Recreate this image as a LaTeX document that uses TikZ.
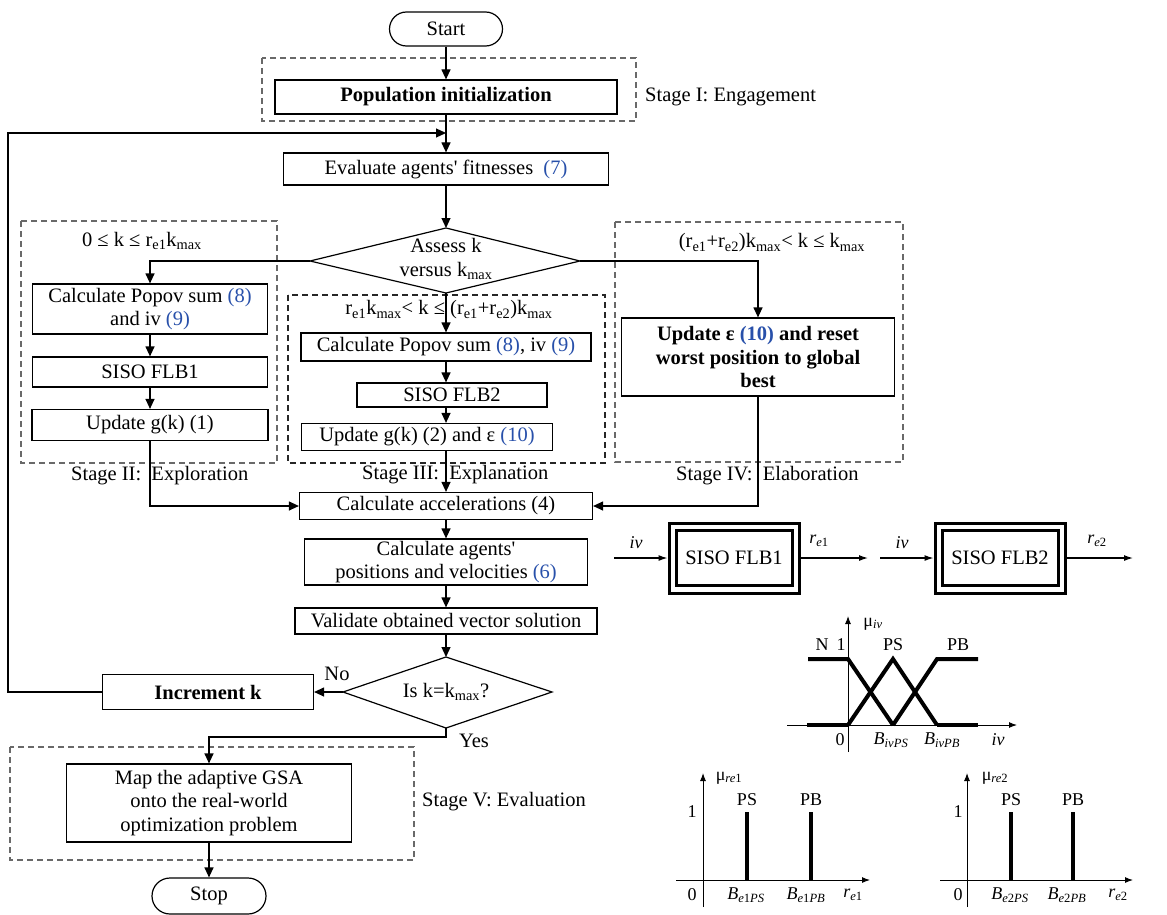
\documentclass[tikz,border=0pt]{standalone}
\usepackage{fontspec}
\setmainfont{Liberation Serif}
\usetikzlibrary{arrows.meta}
\definecolor{eqblue}{RGB}{40,80,170}
\definecolor{dashgray}{RGB}{105,105,105}
\newcommand{\eqn}[1]{\textcolor{eqblue}{(#1)}}
\newcommand{\kmax}{k\textsubscript{max}}
\newcommand{\rsub}[1]{r\textsubscript{#1}}
\begin{document}
\begin{tikzpicture}[x=1pt,y=-1pt,
  font=\fontsize{20.5}{23.5}\selectfont,
  box/.style={draw, line width=1.2pt, align=center, inner sep=1pt},
  bold/.style={font=\fontsize{20.5}{23.5}\selectfont\bfseries},
  stagebox/.style={draw=dashgray, line width=1.2pt, dash pattern=on 6pt off 4pt},
  conn/.style={line width=1.2pt},
  arr/.style={conn, -{Triangle[length=10pt,width=9pt]}},
  lbl/.style={inner sep=0pt},
  flbarr/.style={line width=1.2pt, -{Latex[length=9pt,width=6pt]}},
  mf/.style={line width=4pt},
  axisarr/.style={line width=1pt, -{Latex[length=8pt,width=6pt]}},
  plbl/.style={inner sep=0pt, font=\fontsize{18}{20}\selectfont},
]
\useasboundingbox (0,0) rectangle (1167,915);

% ---------- main flow ----------
\node[box, rounded corners=17pt, minimum width=113pt, minimum height=34pt] (start) at (446,29) {Start};
\draw[stagebox] (262,58) rectangle (636,121);
\node[box, bold, minimum width=342pt, minimum height=34pt] (pop) at (446,97) {Population initialization};
\node[lbl, anchor=west] (s1) at (645,97) {Stage I: Engagement};
\coordinate (j1) at (446,133);
\node[box, minimum width=325pt, minimum height=32pt] (eval) at (446,169) {Evaluate agents\textquotesingle\ fitnesses \ \eqn{7}};

\coordinate (d1t) at (446,228);
\coordinate (d1l) at (310,261);
\coordinate (d1r) at (580,261);
\coordinate (d1b) at (446,293);
\draw[conn] (d1t) -- (d1r) -- (d1b) -- (d1l) -- cycle;
\node[align=center, inner sep=0pt] (d1) at (446,259) {Assess k\\versus \kmax};

% Stage II
\draw[stagebox] (21,221) rectangle (277,463);
\node[lbl] (c2) at (142,241) {0 ≤ k ≤ \rsub{e1}\kmax};
\node[box, minimum width=235pt, minimum height=50pt] (pp1) at (150,309) {Calculate Popov sum \eqn{8}\\and iv \eqn{9}};
\node[box, minimum width=235pt, minimum height=30pt] (siso1) at (150,372) {SISO FLB1};
\node[box, minimum width=236pt, minimum height=31pt] (up1) at (150,425) {Update g(k) (1)};
\node[lbl, anchor=west] (s2) at (71,476) {Stage II:\ \ Exploration};

% Stage III
\draw[stagebox, draw=black!85] (288,295) rectangle (605,463);
\node[lbl] (c3) at (449,310) {\rsub{e1}\kmax < k ≤ (\rsub{e1}+\rsub{e2})\kmax};
\node[box, minimum width=290pt, minimum height=28pt] (pp2) at (446,347) {Calculate Popov sum \eqn{8}, iv \eqn{9}};
\node[box, minimum width=190pt, minimum height=24pt] (siso2) at (452,395) {SISO FLB2};
\node[box, minimum width=251pt, minimum height=27pt] (up2) at (427,437) {Update g(k) (2) and ε \eqn{10}};
\node[lbl, anchor=west] (s3) at (362,475) {Stage III:\ \ Explanation};

% Stage IV
\draw[stagebox] (615,222) rectangle (903,462);
\node[lbl] (c4) at (772,243) {(\rsub{e1}+\rsub{e2})\kmax < k ≤ \kmax};
\node[box, bold, minimum width=273pt, minimum height=78pt] (upe) at (758,357) {Update ε \eqn{10} and reset\\worst position to global\\best};
\node[lbl, anchor=west] (s4) at (676,476) {Stage IV:\ \ Elaboration};

% lower flow
\node[box, minimum width=293pt, minimum height=27pt] (acc) at (446,506) {Calculate accelerations (4)};
\node[box, minimum width=283pt, minimum height=46pt] (pos) at (446,562) {Calculate agents\textquotesingle\\positions and velocities \eqn{6}};
\node[box, minimum width=302pt, minimum height=26pt] (val) at (446,621) {Validate obtained vector solution};

\coordinate (d2t) at (446,657);
\coordinate (d2l) at (343,692);
\coordinate (d2r) at (552,692);
\coordinate (d2b) at (446,728);
\draw[conn] (d2t) -- (d2r) -- (d2b) -- (d2l) -- cycle;
\node[inner sep=0pt] (d2) at (446,692) {Is k=\kmax?};

\node[box, bold, minimum width=211pt, minimum height=35pt] (inc) at (208,692) {Increment k};
\node[lbl] (no) at (337,674) {No};
\node[lbl] (yes) at (474,741) {Yes};
\draw[stagebox] (10,747) rectangle (414,860);
\node[box, minimum width=285pt, minimum height=78pt] (map) at (209,803) {Map the adaptive GSA\\onto the real-world\\optimization problem};
\node[lbl, anchor=west] (s5) at (422,802) {Stage V: Evaluation};
\node[box, rounded corners=18pt, minimum width=114pt, minimum height=36pt] (stop) at (209,896) {Stop};

% connectors
\draw[arr] (start.south) -- (pop.north);
\draw[arr] (pop.south) -- (eval.north);
\draw[arr] (eval.south) -- (d1t);
\draw[arr] (d1l) -| (pp1.north);
\draw[arr] (pp1.south) -- (siso1.north);
\draw[arr] (siso1.south) -- (up1.north);
\draw[arr] (up1.south) |- (acc.west);
\draw[arr] (d1b) -- (pp2.north);
\draw[arr] (pp2.south) -- (pp2.south |- siso2.north);
\draw[arr] (pp2.south |- siso2.south) -- (pp2.south |- up2.north);
\draw[arr] (pp2.south |- up2.south) -- (acc.north);
\draw[arr] (d1r) -| (upe.north);
\draw[arr] (upe.south) |- (acc.east);
\draw[arr] (acc.south) -- (pos.north);
\draw[arr] (pos.south) -- (val.north);
\draw[arr] (val.south) -- (d2t);
\draw[arr] (d2l) -- (inc.east);
\coordinate (loopb) at (8,692);
\coordinate (loopt) at (8,133);
\draw[arr] (inc.west) -- (loopb) -- (loopt) -- (j1);
\coordinate (yb) at (446,737);
\draw[arr] (d2b) -- (yb) -| (map.north);
\draw[arr] (map.south) -- (stop.north);

% ---------- FLB blocks ----------
\node[draw, line width=3pt, minimum width=130pt, minimum height=70pt] (f1o) at (734,558) {};
\node[draw, line width=3pt, minimum width=116pt, minimum height=55pt] (f1) at (734,558) {SISO FLB1};
\node[draw, line width=3pt, minimum width=130pt, minimum height=70pt] (f2o) at (1000,558) {};
\node[draw, line width=3pt, minimum width=116pt, minimum height=55pt] (f2) at (1000,558) {SISO FLB2};
\coordinate (iv1s) at (614,558);
\coordinate (re1e) at (868,558);
\coordinate (iv2s) at (880,558);
\coordinate (re2e) at (1133,558);
\draw[flbarr] (iv1s) -- (f1o.west);
\draw[flbarr] (f1o.east) -- (re1e);
\draw[flbarr] (iv2s) -- (f2o.west);
\draw[flbarr] (f2o.east) -- (re2e);
\node[plbl] (liv1) at (636,543) {\textit{iv}};
\node[plbl] (lre1) at (819,541) {\textit{r}\textsubscript{\textit{e}1}};
\node[plbl] (liv2) at (902,543) {\textit{iv}};
\node[plbl] (lre2) at (1097,541) {\textit{r}\textsubscript{\textit{e}2}};

% ---------- membership iv ----------
\coordinate (ivy0) at (848,752);
\coordinate (ivy1) at (848,616);
\coordinate (ivx0) at (787,725);
\coordinate (ivx1) at (1017,725);
\draw[axisarr] (ivy0) -- (ivy1);
\draw[axisarr] (ivx0) -- (ivx1);
\draw[mf] (808,659) -- (848,659) -- (893,725);
\draw[mf] (848,725) -- (893,659) -- (937,725);
\draw[mf] (893,725) -- (937,659) -- (978,659);
\draw[mf] (807,725) -- (848,725);
\draw[mf] (937,725) -- (978,725);
\node[plbl] (muiv) at (873,624) {μ\textsubscript{\textit{iv}}};
\node[plbl] (nN) at (822,645) {N};
\node[plbl] (n1) at (841,645) {1};
\node[plbl] (nPS) at (893,645) {PS};
\node[plbl] (nPB) at (958,645) {PB};
\node[plbl] (n0) at (840,740) {0};
\node[plbl] (nB1) at (891,740) {\textit{B}\textsubscript{\textit{ivPS}}};
\node[plbl] (nB2) at (942,740) {\textit{B}\textsubscript{\textit{ivPB}}};
\node[plbl] (niv) at (998,740) {\textit{iv}};

% ---------- membership re1 ----------
\coordinate (ay0) at (703,907);
\coordinate (ay1) at (703,773);
\coordinate (ax0) at (676,880);
\coordinate (ax1) at (870,880);
\draw[axisarr] (ay0) -- (ay1);
\draw[axisarr] (ax0) -- (ax1);
\draw[mf] (747,880) -- (747,812);
\draw[mf] (811,880) -- (811,812);
\node[plbl] (mure1) at (729,778) {μ\textsubscript{\textit{re}1}};
\node[plbl] (a1) at (692,812) {1};
\node[plbl] (aPS) at (747,800) {PS};
\node[plbl] (aPB) at (811,800) {PB};
\node[plbl] (a0) at (692,895) {0};
\node[plbl] (aB1) at (746,895) {\textit{B}\textsubscript{\textit{e}1\textit{PS}}};
\node[plbl] (aB2) at (806,895) {\textit{B}\textsubscript{\textit{e}1\textit{PB}}};
\node[plbl] (are) at (853,895) {\textit{r}\textsubscript{\textit{e}1}};

% ---------- membership re2 ----------
\coordinate (by0) at (967,907);
\coordinate (by1) at (967,773);
\coordinate (bx0) at (940,880);
\coordinate (bx1) at (1133,880);
\draw[axisarr] (by0) -- (by1);
\draw[axisarr] (bx0) -- (bx1);
\draw[mf] (1011,880) -- (1011,812);
\draw[mf] (1073,880) -- (1073,812);
\node[plbl] (mure2) at (995,778) {μ\textsubscript{\textit{re}2}};
\node[plbl] (b1) at (958,812) {1};
\node[plbl] (bPS) at (1011,800) {PS};
\node[plbl] (bPB) at (1073,800) {PB};
\node[plbl] (b0) at (958,895) {0};
\node[plbl] (bB1) at (1010,895) {\textit{B}\textsubscript{\textit{e}2\textit{PS}}};
\node[plbl] (bB2) at (1067,895) {\textit{B}\textsubscript{\textit{e}2\textit{PB}}};
\node[plbl] (bre) at (1118,895) {\textit{r}\textsubscript{\textit{e}2}};
\end{tikzpicture}
\end{document}
